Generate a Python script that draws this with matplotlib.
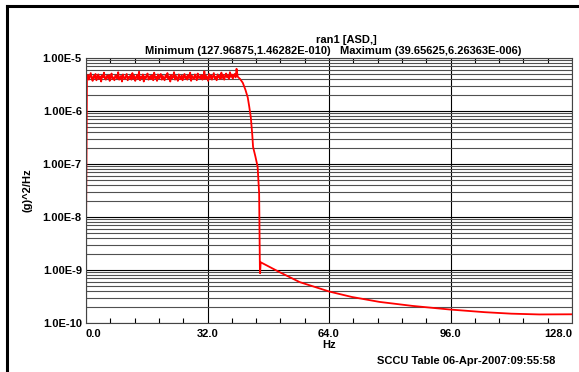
import numpy as np
import matplotlib
matplotlib.use("Agg")
import matplotlib.pyplot as plt
from matplotlib.ticker import FixedLocator, NullFormatter

plt.rcParams['font.family'] = ['Liberation Sans', 'DejaVu Sans']
plt.rcParams['font.weight'] = 'bold'

# first point at 0 Hz
start_f = [0.0]
start_v = [4.6e-9]

# flat part (x 1e-6), 0.25 .. 39.9 Hz
plateau_v = [
    4.3, 4.8, 3.9, 4.5, 5.2, 4.1, 3.7, 4.6, 4.2, 5.0, 3.8, 4.4, 4.9, 4.0, 4.5, 3.6, 4.7, 4.3, 5.3, 4.1,
    3.9, 4.6, 4.2, 4.8, 3.7, 4.4, 5.1, 4.0, 4.3, 3.8, 4.7, 4.5, 4.1, 5.4, 3.9, 4.2, 4.6, 3.6, 4.9, 4.3,
    4.0, 4.5, 5.0, 3.8, 4.4, 4.2, 4.7, 3.9, 5.2, 4.1, 4.6, 3.7, 4.3, 4.8, 4.0, 5.5, 3.8, 4.4, 4.2, 4.9,
    3.6, 4.5, 4.1, 4.7, 5.1, 3.9, 4.3, 4.6, 4.0, 4.8, 3.8, 5.3, 4.2, 4.4, 3.7, 4.9, 4.1, 4.5, 5.0, 3.9,
    4.6, 4.2, 3.8, 4.7, 4.3, 5.2, 4.0, 4.5, 3.6, 4.8, 4.1, 4.4, 5.4, 3.9, 4.6, 4.2, 3.7, 4.9, 4.3, 4.0,
    4.7, 3.8, 4.4, 5.0, 4.1, 4.5, 3.9, 4.8, 4.2, 5.3, 3.7, 4.6, 4.3, 4.0, 4.9, 4.4, 3.8, 5.1, 4.2, 4.5,
    4.1, 4.8, 3.9, 4.4, 5.6, 4.0, 4.6, 4.3, 3.7, 5.0, 4.2, 4.7, 3.9, 4.5, 5.2, 4.1, 4.4, 3.8, 4.9, 4.3,
    4.6, 4.0, 5.3, 4.2, 4.8, 3.9, 4.5, 5.1, 4.3, 4.7, 4.0, 5.4, 4.4, 4.9, 4.1, 4.6, 5.0, 4.3, 6.26, 4.7,
]
plateau_f = np.linspace(0.25, 39.9, len(plateau_v))

# roll-off
drop_f = [40.0, 40.6, 41.3, 42.0, 42.6, 43.0, 43.4, 43.8, 44.0, 44.6, 45.2, 45.6, 45.8, 45.85]
drop_v = [4.4e-6, 4.0e-6, 3.4e-6, 2.5e-6, 1.8e-6, 1.2e-6, 7.7e-7, 3.5e-7, 2.1e-7, 1.4e-7,
          8.9e-8, 2.8e-8, 1.0e-9, 8.7e-10]

# tail
tail_f = [46.0, 48.0, 51.0, 56.3, 64.2, 70.0, 77.3, 86.0, 95.7, 105.0, 112.0, 119.4, 128.0]
tail_v = [1.4e-9, 1.18e-9, 9.1e-10, 5.9e-10, 3.9e-10, 3.1e-10, 2.5e-10, 2.1e-10, 1.8e-10,
          1.6e-10, 1.5e-10, 1.45e-10, 1.46e-10]

freq = np.concatenate([start_f, plateau_f, drop_f, tail_f])
asd = np.concatenate([start_v, np.array(plateau_v) * 1e-6, drop_v, tail_v])

x_ticks = [0, 32, 64, 96, 128]
x_labels = ["0.0", "32.0", "64.0", "96.0", "128.0"]
y_ticks = [1e-10, 1e-9, 1e-8, 1e-7, 1e-6, 1e-5]
y_labels = ["1.0E-10", "1.00E-9", "1.00E-8", "1.00E-7", "1.00E-6", "1.00E-5"]

fs = 8

fig = plt.figure(figsize=(5.79, 3.72), dpi=100)
fig.patch.set_facecolor('white')

# outer frame (top and left only visible)
fig.add_artist(plt.Line2D([7 / 579, 1.0], [1 - 6 / 372, 1 - 6 / 372], color='black', lw=2.2,
                          transform=fig.transFigure))
fig.add_artist(plt.Line2D([7 / 579, 7 / 579], [0.0, 1 - 6 / 372], color='black', lw=2.2,
                          transform=fig.transFigure))

ax = fig.add_axes([86 / 579, 1 - 323 / 372, (572 - 86) / 579, (323 - 58) / 372])
ax.plot(freq, asd, color='red', lw=1.3)
ax.set_yscale('log')
ax.set_xlim(0, 128)
ax.set_ylim(1e-10, 1e-5)

# grids
ax.yaxis.set_major_locator(FixedLocator(y_ticks))
minor_y = [m * 10.0 ** e for e in range(-10, -5) for m in range(2, 10)]
ax.yaxis.set_minor_locator(FixedLocator(minor_y))
ax.yaxis.set_minor_formatter(NullFormatter())
ax.set_yticklabels(y_labels)
ax.grid(True, which='major', axis='y', color='black', lw=0.8)
ax.grid(True, which='minor', axis='y', color='#505050', lw=0.8)
ax.tick_params(axis='y', which='both', length=0, labelsize=fs, pad=3)

ax.set_xticks(x_ticks)
ax.set_xticklabels(x_labels)
ax.set_xticks(np.arange(0, 128.1, 6.4), minor=True)
ax.grid(True, which='major', axis='x', color='black', lw=0.8)
ax.tick_params(axis='x', which='major', length=0, labelsize=fs, pad=4)
ax.tick_params(axis='x', which='minor', direction='in', length=3.5, top=True, bottom=True,
               width=0.8)
labs = ax.get_xticklabels()
labs[0].set_ha('left')
labs[-1].set_ha('right')

for s in ax.spines.values():
    s.set_linewidth(0.8)
    s.set_color('#444444')

ax.set_xlabel("Hz", fontsize=fs, fontweight='bold', labelpad=1)
ax.set_ylabel("(g)^2/Hz", fontsize=fs, fontweight='bold', labelpad=7)

fig.text(346 / 579, 1 - 40 / 372, "ran1 [ASD,]", ha='center', va='center', fontsize=fs,
         fontweight='bold')
fig.text(333 / 579, 1 - 51 / 372,
         "Minimum (127.96875,1.46282E-010)   Maximum (39.65625,6.26363E-006)",
         ha='center', va='center', fontsize=fs, fontweight='bold')
fig.text(555 / 579, 1 - 361 / 372, "SCCU Table 06-Apr-2007:09:55:58", ha='right', va='center',
         fontsize=fs, fontweight='bold')

fig.savefig("out.png", dpi=100)
